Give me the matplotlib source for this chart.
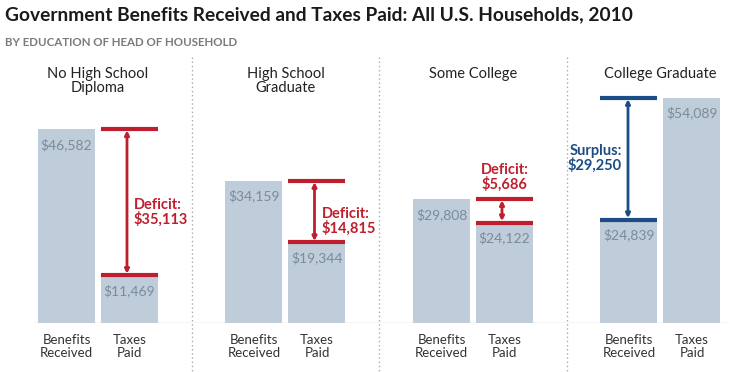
import matplotlib
matplotlib.use("Agg")
import matplotlib.pyplot as plt

plt.rcParams['font.family'] = ['Lato', 'DejaVu Sans']

groups = ["No High School\nDiploma", "High School\nGraduate", "Some College", "College Graduate"]
benefits = [46582, 34159, 29808, 24839]
taxes = [11469, 19344, 24122, 54089]
bar_labels = ["Benefits\nReceived", "Taxes\nPaid"]
diff_labels = ["Deficit:\n$35,113", "Deficit:\n$14,815", "Deficit:\n$5,686", "Surplus:\n$29,250"]

W, H = 730, 372
fig = plt.figure(figsize=(W / 100, H / 100), dpi=100)

base_px = 323
top_px = 60
px_per_unit = 4.165 / 1000
ax = fig.add_axes([0, (H - base_px) / H, 1, (base_px - top_px) / H])
ymax = (base_px - top_px) / px_per_unit
ax.set_ylim(0, ymax)
span = 187.5
ax.set_xlim(-98 / span, (W - 98) / span)
ax.axis('off')

bar_color = "#bfccd9"
val_color = "#7b8b9d"
red = "#be1e2d"
navy = "#1c4d86"
bw = 57 / span
off = 31.5 / span

for i in range(len(groups)):
    xb = i - off
    xt = i + off
    ax.bar([xb, xt], [benefits[i], taxes[i]], width=bw, color=bar_color, zorder=2)
    for x, v in ((xb, benefits[i]), (xt, taxes[i])):
        ax.annotate(f"${v:,}", (x, v), xytext=(0, -9), textcoords='offset pixels',
                    ha='center', va='top', fontsize=10, color=val_color, zorder=4)
    surplus = taxes[i] > benefits[i]
    col = navy if surplus else red
    xl = xb if surplus else xt
    hi = max(benefits[i], taxes[i])
    lo = min(benefits[i], taxes[i])
    ax.hlines([hi, lo], xl - bw / 2, xl + bw / 2, colors=col, linewidth=3, zorder=5)
    xa = xl - 2.5 / span if not surplus else xl - 1 / span
    ax.annotate("", xy=(xa, hi), xytext=(xa, lo),
                arrowprops=dict(arrowstyle='<|-|>', color=col, lw=2,
                                mutation_scale=6, shrinkA=1, shrinkB=1), zorder=5)
    mid = (hi + lo) / 2
    if surplus:
        ax.annotate(diff_labels[i], (xa, mid), xytext=(-6, 0), textcoords='offset pixels',
                    ha='right', va='center', fontsize=10.5, fontweight='bold', color=col,
                    linespacing=1.0)
    elif hi - lo < 10000:
        ax.annotate(diff_labels[i], (xl, hi), xytext=(0, 7), textcoords='offset pixels',
                    ha='center', va='bottom', fontsize=10.5, fontweight='bold', color=col,
                    linespacing=1.0)
    else:
        ax.annotate(diff_labels[i], (xa, mid), xytext=(7, -10), textcoords='offset pixels',
                    ha='left', va='center', fontsize=10.5, fontweight='bold', color=col,
                    linespacing=1.0)
    # group title
    ax.annotate(groups[i], (i, ymax), xytext=(0, -7), textcoords='offset pixels',
                ha='center', va='top', fontsize=10.5, color="#222222", linespacing=1.0,
                annotation_clip=False)
    # bar category labels
    for x, lab in ((xb, bar_labels[0]), (xt, bar_labels[1])):
        ax.annotate(lab, (x, 0), xytext=(0, -11), textcoords='offset pixels',
                    ha='center', va='top', fontsize=9.5, color="#333333",
                    linespacing=1.1, annotation_clip=False)

# baseline
ax.axhline(0, xmin=35 / W, xmax=728 / W, color="#cccccc", lw=1, zorder=3)

# dotted separators
for k in range(1, len(groups)):
    xs = k - 0.5
    ax.plot([xs, xs], [ymax + 3 / 4.165 * 1000, -49 / 4.165 * 1000], ls=(0, (1, 2)),
            color="#aaaaaa", lw=1, clip_on=False)

fig.text(5 / W, 1 - 15 / H, "Government Benefits Received and Taxes Paid: All U.S. Households, 2010",
         ha='left', va='center', fontsize=13.8, fontweight='bold', color="#1a1a1a")
fig.text(5 / W, 1 - 42 / H, "BY EDUCATION OF HEAD OF HOUSEHOLD",
         ha='left', va='center', fontsize=8.3, fontweight='bold', color="#7a7a7a")

fig.savefig("out.png", dpi=100)
